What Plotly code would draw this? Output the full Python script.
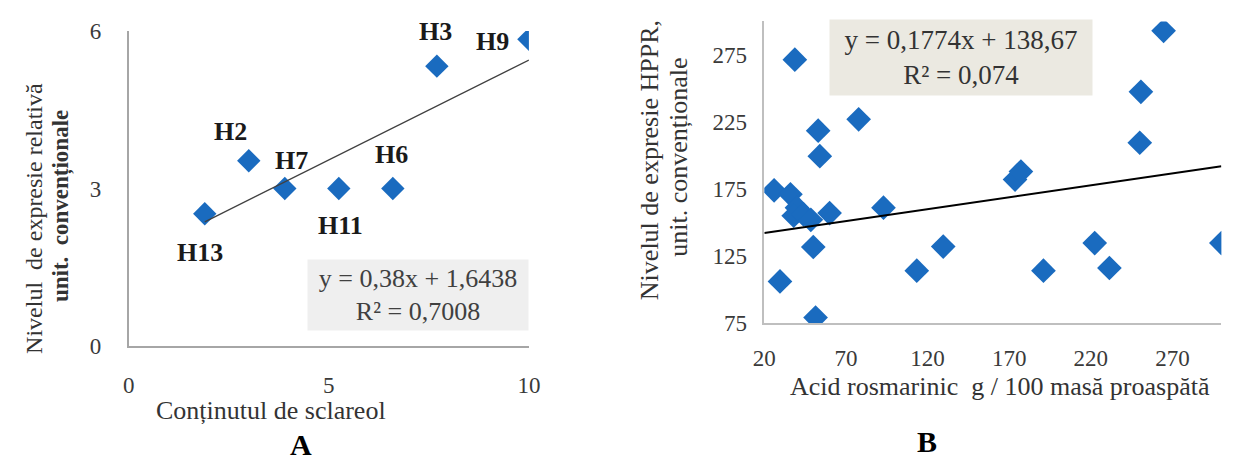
import plotly.graph_objects as go

# ---------------- Data: chart A ----------------
hybrids = ["H13", "H2", "H7", "H11", "H6", "H3", "H9"]
sclareol = [1.9, 3.0, 3.9, 5.25, 6.6, 7.7, 10.0]
expr_rel = [2.52, 3.53, 3.0, 3.0, 3.0, 5.33, 5.84]
a_slope, a_intercept = 0.38, 1.6438
a_eq = "y = 0,38x + 1,6438"
a_r2 = "R² = 0,7008"
a_xticks = [0, 5, 10]
a_yticks = [0, 3, 6]

# ---------------- Data: chart B ----------------
rosmarinic = [38.7, 53, 77.8, 54, 26, 36, 40, 38, 44, 48.5, 60, 93, 50, 29.6, 51.4,
              113.4, 129.6, 173.6, 177.2, 191, 222.4, 231.4, 250, 250.7, 264.6, 300]
hppr = [271.5, 218.5, 227, 199.5, 174, 171, 161, 155, 156, 152, 157, 161, 131.7, 106, 79,
        114, 132, 182, 188, 114, 134.6, 116, 209.5, 247.5, 293, 134.6]
b_slope, b_intercept = 0.1774, 138.67
b_eq = "y = 0,1774x + 138,67"
b_r2 = "R² = 0,074"
b_xticks = [20, 70, 120, 170, 220, 270]
b_yticks = [75, 125, 175, 225, 275]

W, H = 1253, 468
SERIF = "Liberation Serif, Times New Roman, serif"
BLUE = "#1a6bbf"


def fx(p):
    return p / W


def fy(p):
    return 1 - p / H


fig = go.Figure()

# chart A points
fig.add_trace(go.Scatter(x=sclareol, y=expr_rel, mode="markers",
                         marker=dict(symbol="diamond", size=18, color=BLUE),
                         xaxis="x", yaxis="y", showlegend=False))
ax_line = [min(sclareol), max(sclareol)]
fig.add_trace(go.Scatter(x=ax_line, y=[a_slope * v + a_intercept for v in ax_line],
                         mode="lines", line=dict(color="#404040", width=1.3),
                         xaxis="x", yaxis="y", showlegend=False))

# chart B points
fig.add_trace(go.Scatter(x=rosmarinic, y=hppr, mode="markers",
                         marker=dict(symbol="diamond", size=19, color=BLUE),
                         xaxis="x2", yaxis="y2", showlegend=False))
bx_line = [20, max(rosmarinic)]
fig.add_trace(go.Scatter(x=bx_line, y=[b_slope * v + b_intercept for v in bx_line],
                         mode="lines", line=dict(color="black", width=2),
                         xaxis="x2", yaxis="y2", showlegend=False))

tickfont = dict(family=SERIF, size=23, color="#3a3a3a")
common = dict(showgrid=False, zeroline=False, showline=True, ticks="",
              tickfont=tickfont, fixedrange=True)

fig.update_layout(
    width=W, height=H,
    margin=dict(l=0, r=0, t=0, b=0),
    paper_bgcolor="white", plot_bgcolor="white",
    xaxis=dict(domain=[fx(119), fx(527)], range=[0, 10], tickvals=a_xticks,
               linecolor="#a6a6a6", linewidth=1.5, anchor="y",
               ticklabelstandoff=18, **common),
    yaxis=dict(domain=[fy(353), fy(20)], range=[0, 6], tickvals=a_yticks,
               linecolor="#a6a6a6", linewidth=1.5, anchor="x",
               ticklabelstandoff=21, **common),
    xaxis2=dict(domain=[fx(767), fx(1233)], range=[20, 300], tickvals=b_xticks,
                linecolor="#bfbfbf", linewidth=1.5, anchor="y2",
                ticklabelstandoff=14, **common),
    yaxis2=dict(domain=[fy(328.5), fy(10)], range=[75, 300], tickvals=b_yticks,
                linecolor="#bfbfbf", linewidth=1.5, anchor="x2",
                ticklabelstandoff=11, **common),
)

annotations = []
# point labels in chart A (offsets in pixels)
label_shift = [(-5, -39), (-18, 29), (7, 28), (2, -37), (-1, 34), (-1, 35), (-36, -2)]
for name, xv, yv, (dx, dy) in zip(hybrids, sclareol, expr_rel, label_shift):
    annotations.append(dict(x=xv, y=yv, xref="x", yref="y", text="<b>" + name + "</b>",
                            showarrow=False, xshift=dx, yshift=dy,
                            xanchor="center", yanchor="middle",
                            font=dict(family=SERIF, size=26, color="#1a1a1a")))


def pa(x, y, text, font, **kw):
    d = dict(x=fx(x), y=fy(y), xref="paper", yref="paper", text=text, showarrow=False,
             xanchor="center", yanchor="middle", font=font)
    d.update(kw)
    return d


# equation boxes
annotations.append(pa(414, 299, a_eq + "<br>" + a_r2,
                      dict(family=SERIF, size=26, color="#404040"),
                      bgcolor="#efefef", width=218, height=68, align="center"))
annotations.append(pa(968, 48.5, b_eq + "<br>" + b_r2,
                      dict(family=SERIF, size=27, color="#333333"),
                      bgcolor="#ebe9e1", width=260, height=73, align="center"))

# axis titles
title_font = dict(family=SERIF, size=26, color="#333333")
annotations += [
    pa(264, 421, "Conținutul de sclareol", title_font),
    pa(23, 218, "Nivelul  de expresie relativă", dict(family=SERIF, size=24, color="#333333"),
       textangle=-90),
    pa(50, 205, "<b>unit.  convenționale</b>", dict(family=SERIF, size=23, color="#333333"),
       textangle=-90),
    pa(1007, 396, "Acid rosmarinic  g / 100 masă proaspătă", title_font),
    pa(650, 157, "Nivelul de expresie HPPR,", title_font, textangle=-90),
    pa(680, 153, "unit. convenționale", title_font, textangle=-90),
    pa(295, 457, "<b>A</b>", dict(family=SERIF, size=30, color="black")),
    pa(933, 454, "<b>B</b>", dict(family=SERIF, size=30, color="black")),
]
fig.update_layout(annotations=annotations)

fig.write_html("out.html")
